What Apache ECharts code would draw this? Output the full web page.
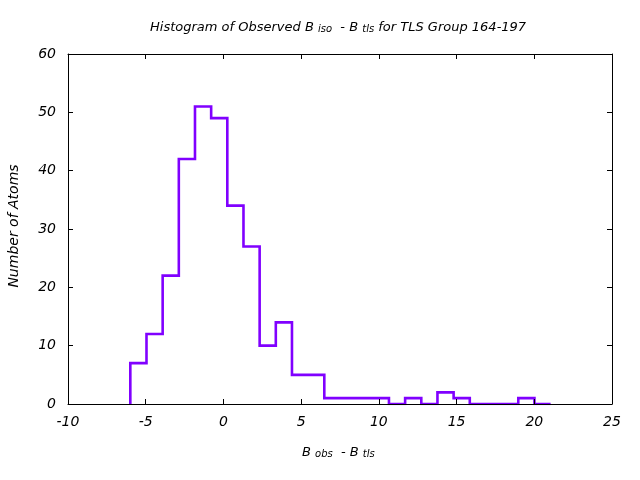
<!DOCTYPE html>
<html>
<head>
<meta charset="utf-8">
<script src="https://cdn.jsdelivr.net/npm/echarts@6/dist/echarts.min.js"></script>
<style>html,body{margin:0;padding:0;background:#fff}#c{width:640px;height:480px}</style>
</head>
<body>
<div id="c"></div>
<script>
// Histogram data
var binStart = -5.99;
var binWidth = 1.04;
var counts = [7, 12, 22, 42, 51, 49, 34, 27, 10, 14, 5, 5, 1, 1, 1, 1, 0, 1, 0, 2, 1, 0, 0, 0, 1, 0];
var xTicks = [-10, -5, 0, 5, 10, 15, 20, 25];
var yTicks = [0, 10, 20, 30, 40, 50, 60];

var FONT = 'DejaVu Sans';
var pts = [];
pts.push([binStart, 0]);
for (var i = 0; i < counts.length; i++) {
  var a = binStart + binWidth * i, b = binStart + binWidth * (i + 1);
  pts.push([a, counts[i]]);
  pts.push([b, counts[i]]);
}
pts.push([binStart + binWidth * counts.length, 0]);

var lbl = {fontFamily: FONT, fontStyle: 'italic', fontSize: 14, color: '#000'};
function xAx(pos, show) {
  return {type: 'value', position: pos, min: xTicks[0], max: xTicks[xTicks.length-1], interval: 5, z: 5,
    axisLine: {show: true, onZero: false, lineStyle: {color: '#000', width: 1}},
    axisTick: {show: true, inside: true, length: 5, lineStyle: {color: '#000'}},
    axisLabel: Object.assign({show: show, margin: 11}, lbl),
    splitLine: {show: false}};
}
function yAx(pos, show) {
  return {type: 'value', position: pos, min: yTicks[0], max: yTicks[yTicks.length-1], interval: 10, z: 5,
    axisLine: {show: true, onZero: false, lineStyle: {color: '#000', width: 1}},
    axisTick: {show: true, inside: true, length: 5, lineStyle: {color: '#000'}},
    axisLabel: Object.assign({show: show, margin: 12}, lbl),
    splitLine: {show: false}};
}
var chart = echarts.init(document.getElementById('c'), null, {renderer: 'canvas'});
var n = {fontFamily: FONT, fontStyle: 'italic', fontSize: 13, color: '#000', lineHeight: 18, verticalAlign: 'bottom'};
var s = {fontFamily: FONT, fontStyle: 'italic', fontSize: 10, color: '#000', lineHeight: 10, padding: [9, 0, 0, 0], verticalAlign: 'bottom'};
chart.setOption({
  animation: false,
  grid: {left: 68, right: 28, top: 54, bottom: 76},
  xAxis: [xAx('bottom', true), xAx('top', false)],
  yAxis: [yAx('left', true), yAx('right', false)],
  graphic: [
    {type: 'text', left: 150, top: 15, style: {
      text: '{n|Histogram of Observed B }{s|iso}{n|  - B }{s|tls}{n| for TLS Group 164-197}',
      rich: {n: n, s: s}}},
    {type: 'text', left: 302, top: 440, style: {
      text: '{n|B }{s|obs}{n|  - B }{s|tls}', rich: {n: n, s: s}}},
    {type: 'text', x: 14, y: 226, rotation: Math.PI/2, style: {
      text: 'Number of Atoms', font: 'italic 14px "DejaVu Sans"', fill: '#000', align: 'center', verticalAlign: 'middle'}}
  ],
  series: [{type: 'line', data: pts, xAxisIndex: 0, yAxisIndex: 0, symbol: 'none', z: 2,
    lineStyle: {color: '#8000ff', width: 2.6, join: 'miter'}}]
});
</script>
</body>
</html>
